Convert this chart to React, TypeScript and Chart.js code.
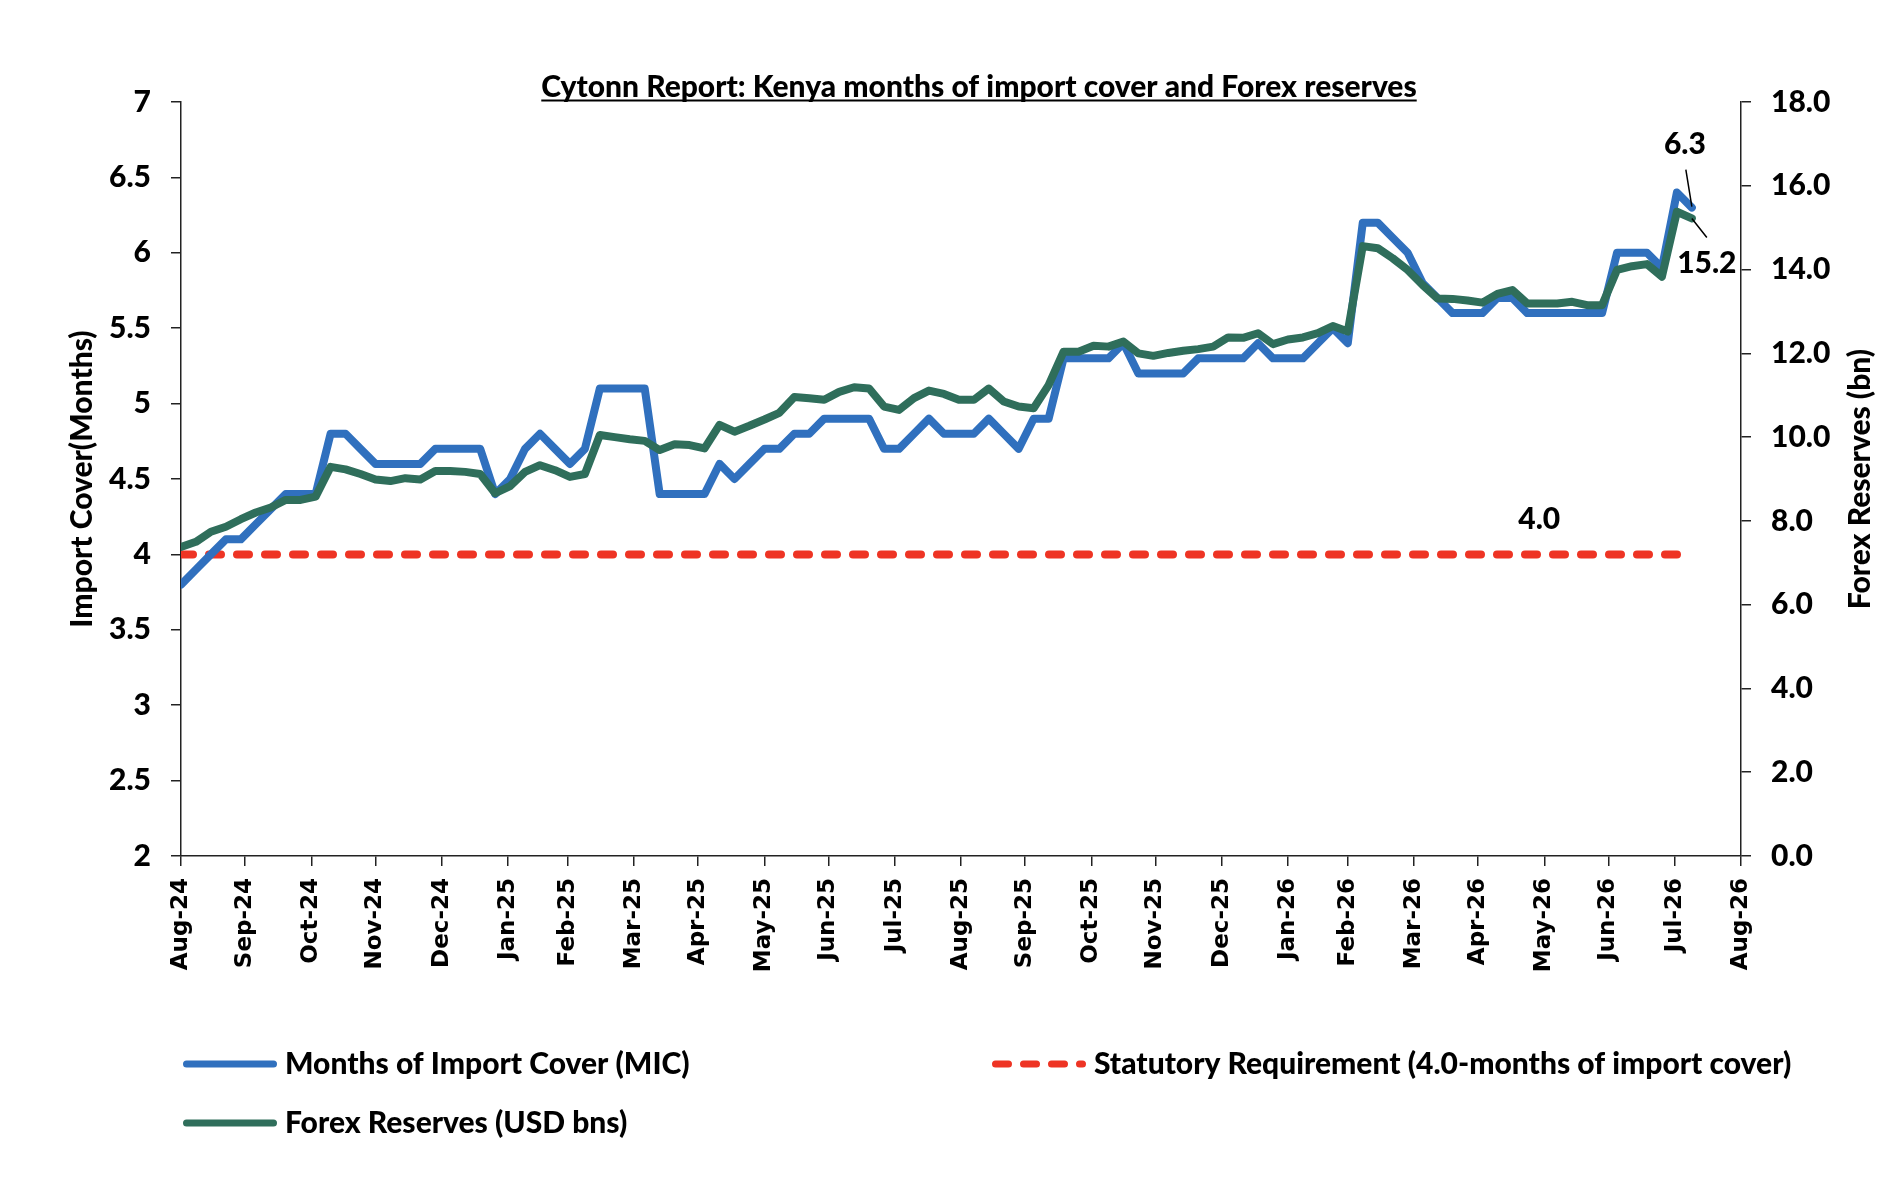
import React, { useEffect, useRef } from "react";
import { Chart, registerables } from "chart.js";

Chart.register(...registerables);

// month labels on the x axis (Excel puts each one on the last day of its month)
const monthLabels = [
  "Aug-24", "Sep-24", "Oct-24", "Nov-24", "Dec-24", "Jan-25", "Feb-25", "Mar-25",
  "Apr-25", "May-25", "Jun-25", "Jul-25", "Aug-25", "Sep-25", "Oct-25", "Nov-25",
  "Dec-25", "Jan-26", "Feb-26", "Mar-26", "Apr-26", "May-26", "Jun-26", "Jul-26", "Aug-26",
];

// weekly readings, months of import cover
const importCover = [
  3.8, 3.9, 4.0, 4.1, 4.1, 4.2, 4.3, 4.4, 4.4, 4.4,
  4.8, 4.8, 4.7, 4.6, 4.6, 4.6, 4.6, 4.7, 4.7, 4.7,
  4.7, 4.4, 4.5, 4.7, 4.8, 4.7, 4.6, 4.7, 5.1, 5.1,
  5.1, 5.1, 4.4, 4.4, 4.4, 4.4, 4.6, 4.5, 4.6, 4.7,
  4.7, 4.8, 4.8, 4.9, 4.9, 4.9, 4.9, 4.7, 4.7, 4.8,
  4.9, 4.8, 4.8, 4.8, 4.9, 4.8, 4.7, 4.9, 4.9, 5.3,
  5.3, 5.3, 5.3, 5.4, 5.2, 5.2, 5.2, 5.2, 5.3, 5.3,
  5.3, 5.3, 5.4, 5.3, 5.3, 5.3, 5.4, 5.5, 5.4, 6.2,
  6.2, 6.1, 6.0, 5.8, 5.7, 5.6, 5.6, 5.6, 5.7, 5.7,
  5.6, 5.6, 5.6, 5.6, 5.6, 5.6, 6.0, 6.0, 6.0, 5.9,
  6.4, 6.3,
];

// weekly readings, usable forex reserves (USD bn)
const forexReserves = [
  7.38, 7.5, 7.74, 7.86, 8.04, 8.2, 8.32, 8.5, 8.5, 8.58,
  9.29, 9.23, 9.12, 8.99, 8.95, 9.02, 8.99, 9.19, 9.19, 9.17,
  9.12, 8.66, 8.83, 9.17, 9.33, 9.21, 9.05, 9.12, 10.05, 10.0,
  9.95, 9.91, 9.69, 9.83, 9.81, 9.73, 10.29, 10.13, 10.27, 10.42,
  10.58, 10.96, 10.93, 10.89, 11.08, 11.19, 11.16, 10.73, 10.65, 10.93,
  11.11, 11.03, 10.89, 10.89, 11.16, 10.85, 10.73, 10.69, 11.24, 12.04,
  12.04, 12.18, 12.16, 12.28, 12.0, 11.94, 12.01, 12.06, 12.1, 12.16,
  12.38, 12.37, 12.48, 12.22, 12.33, 12.38, 12.48, 12.65, 12.52, 14.56,
  14.51, 14.27, 13.99, 13.63, 13.31, 13.3, 13.26, 13.21, 13.42, 13.51,
  13.19, 13.19, 13.19, 13.23, 13.15, 13.15, 13.99, 14.08, 14.13, 13.83,
  15.38, 15.22,
];

const statutoryLevel = 4.0;
const statutoryLabelWeek = 91;

const BLUE = "#3070BE";
const GREEN = "#2F6E5B";
const RED = "#EE3424";
const FONT = "Lato, 'Open Sans', sans-serif";
const WEIGHT = "900";
const SIZE = 30;

const DAY = 86400000;
const START = Date.UTC(2024, 7, 31);
const monthEndDays = monthLabels.map((_, k) => (Date.UTC(2024, 8 + k, 0) - START) / DAY);
const weekDays = importCover.map((_, i) => i * 7);

const legendSlots = [
  { x: 183, y: 1064 },
  { x: 992, y: 1064 },
  { x: 183, y: 1123 },
];

const overlay = {
  id: "overlay",
  afterDraw(chart: any) {
    const { ctx, chartArea: a, scales } = chart;
    ctx.save();
    ctx.fillStyle = "#000";
    ctx.strokeStyle = "#000";

    // underlined title
    const title = "Cytonn Report: Kenya months of import cover and Forex reserves";
    ctx.font = `${WEIGHT} ${SIZE}px ${FONT}`;
    ctx.textAlign = "center";
    ctx.textBaseline = "alphabetic";
    ctx.fillText(title, 979, 97);
    const tw = ctx.measureText(title).width;
    ctx.lineWidth = 2;
    ctx.beginPath();
    ctx.moveTo(979 - tw / 2, 100.5);
    ctx.lineTo(979 + tw / 2, 100.5);
    ctx.stroke();

    // axis titles, both read bottom to top
    const midY = (a.top + a.bottom) / 2;
    ctx.textBaseline = "middle";
    [["Import Cover(Months)", 82], ["Forex Reserves (bn)", 1860]].forEach(([t, x]: any) => {
      ctx.save();
      ctx.translate(x, midY);
      ctx.rotate(-Math.PI / 2);
      ctx.fillText(t, 0, 0);
      ctx.restore();
    });

    // last-point labels with leader lines
    const mic = chart.getDatasetMeta(0).data;
    const fx = chart.getDatasetMeta(2).data;
    const pm = mic[mic.length - 1];
    const pf = fx[fx.length - 1];
    ctx.lineWidth = 1.5;
    ctx.beginPath();
    ctx.moveTo(pm.x - 6, pm.y - 38);
    ctx.lineTo(pm.x, pm.y - 1);
    ctx.moveTo(pf.x, pf.y);
    ctx.lineTo(pf.x + 15, pf.y + 19);
    ctx.stroke();
    ctx.fillText(importCover[importCover.length - 1].toFixed(1), pm.x - 7, pm.y - 63);
    ctx.fillText(forexReserves[forexReserves.length - 1].toFixed(1), pf.x + 15, pf.y + 45);

    // statutory level label
    const sx = scales.x.getPixelForValue(weekDays[statutoryLabelWeek]);
    const sy = scales.y.getPixelForValue(statutoryLevel);
    ctx.fillText(statutoryLevel.toFixed(1), sx - 3, sy - 35);

    // legend
    chart.data.datasets.forEach((ds: any, i: number) => {
      const s = legendSlots[i];
      ctx.save();
      ctx.strokeStyle = ds.borderColor;
      ctx.lineWidth = 7;
      ctx.lineCap = "round";
      ctx.setLineDash(ds.borderDash ? [13, 15] : []);
      ctx.beginPath();
      ctx.moveTo(s.x + 3.5, s.y);
      ctx.lineTo(s.x + 90.5, s.y);
      ctx.stroke();
      ctx.restore();
      ctx.textAlign = "left";
      ctx.textBaseline = "alphabetic";
      ctx.fillText(ds.label, s.x + 102, s.y + 10);
    });

    ctx.restore();
  },
};

const tickFont = { family: FONT, weight: WEIGHT as any, size: SIZE };
const axisGrid = { drawOnChartArea: false, drawTicks: true, tickLength: 10, color: "#222", lineWidth: 1.5 };
const axisBorder = { display: true, color: "#222", width: 1.5 };

const App = () => {
  const chartRef = useRef<HTMLCanvasElement>(null);

  useEffect(() => {
    document.body.style.margin = "0";
    const last = weekDays[weekDays.length - 1];

    const chart = new Chart(chartRef.current!, {
      type: "line",
      data: {
        datasets: [
          {
            label: "Months of Import Cover (MIC)",
            data: importCover.map((v, i) => ({ x: weekDays[i], y: v })),
            yAxisID: "y",
            borderColor: BLUE,
            borderWidth: 8,
            borderJoinStyle: "round",
            borderCapStyle: "round",
            pointRadius: 0,
            tension: 0,
            order: 1,
          },
          {
            label: "Statutory Requirement (4.0-months of import cover)",
            data: [
              { x: 0, y: statutoryLevel },
              { x: last, y: statutoryLevel },
            ],
            yAxisID: "y",
            borderColor: RED,
            borderWidth: 8,
            borderDash: [12, 16],
            borderCapStyle: "round",
            pointRadius: 0,
            order: 2,
          },
          {
            label: "Forex Reserves (USD bns)",
            data: forexReserves.map((v, i) => ({ x: weekDays[i], y: v })),
            yAxisID: "y1",
            borderColor: GREEN,
            borderWidth: 8,
            borderJoinStyle: "round",
            borderCapStyle: "round",
            pointRadius: 0,
            tension: 0,
            order: 0,
          },
        ],
      },
      options: {
        responsive: true,
        maintainAspectRatio: false,
        animation: false,
        layout: { padding: { top: 102, left: 0, right: 0, bottom: 0 } },
        plugins: {
          legend: { display: false },
          tooltip: { enabled: false },
          title: { display: false },
        },
        scales: {
          x: {
            type: "linear",
            min: 0,
            max: monthEndDays[monthEndDays.length - 1],
            afterBuildTicks: (scale: any) => {
              scale.ticks = monthEndDays.map((v) => ({ value: v }));
            },
            afterFit: (scale: any) => {
              scale.height = 338;
            },
            ticks: {
              autoSkip: false,
              minRotation: 90,
              maxRotation: 90,
              padding: 12,
              color: "#000",
              font: { family: "'DejaVu Sans', Verdana, sans-serif", weight: "bold", size: 23 },
              callback: (_v: any, i: number) => monthLabels[i],
            },
            grid: axisGrid,
            border: axisBorder,
          },
          y: {
            position: "left",
            min: 2,
            max: 7,
            afterFit: (scale: any) => {
              scale.width = 181;
            },
            ticks: {
              stepSize: 0.5,
              padding: 20,
              color: "#000",
              font: tickFont,
              callback: (v: any) => String(v),
            },
            grid: axisGrid,
            border: axisBorder,
          },
          y1: {
            position: "right",
            min: 0,
            max: 18,
            afterFit: (scale: any) => {
              scale.width = 147;
            },
            ticks: {
              stepSize: 2,
              padding: 20,
              color: "#000",
              font: tickFont,
              callback: (v: any) => Number(v).toFixed(1),
            },
            grid: axisGrid,
            border: axisBorder,
          },
        },
      },
      plugins: [overlay],
    });

    return () => {
      chart.destroy();
    };
  }, []);

  return (
    <div style={{ position: "relative", width: 1888, height: 1194, background: "#fff" }}>
      <canvas ref={chartRef} />
    </div>
  );
};

export default App;
